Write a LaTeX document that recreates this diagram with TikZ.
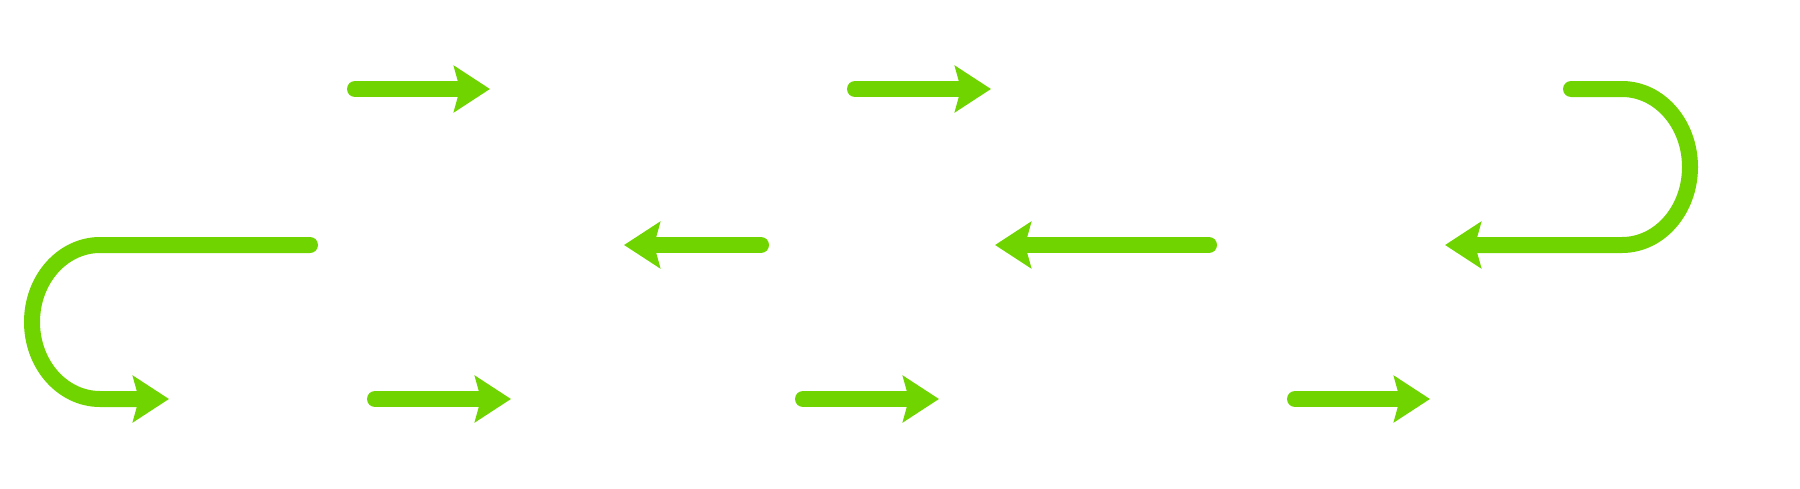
\documentclass[tikz,border=0pt]{standalone}
\usepackage{xcolor}
\usetikzlibrary{arrows.meta}
\definecolor{flowgreen}{HTML}{6FD400}
\tikzset{
	flow/.style={draw=flowgreen,line width=16pt,line cap=round,
		-{Stealth[length=36pt,width=46pt,inset=6pt,line cap=butt]}},
	bar/.style={draw=flowgreen,line width=16pt,line cap=round}
}
\begin{document}
\begin{tikzpicture}[x=1pt,y=-1pt]
		\useasboundingbox (0,0) rectangle (1800,488);
		% top row
		\coordinate (a1s) at (355,89);  \coordinate (a1e) at (490,89);
		\coordinate (a2s) at (855,89);  \coordinate (a2e) at (991,89);
		\coordinate (a3s) at (1571,89); \coordinate (a3b) at (1622,89);
		% middle row
		\coordinate (m1s) at (761,245); \coordinate (m1e) at (624,245);
		\coordinate (m2s) at (1209,245); \coordinate (m2e) at (995,245);
		\coordinate (m3b) at (1622,245); \coordinate (m3e) at (1445,245);
		\coordinate (m0s) at (310,245); \coordinate (m0b) at (100,245);
		% bottom row
		\coordinate (b0b) at (100,399); \coordinate (b0e) at (169,399);
		\coordinate (b1s) at (375,399); \coordinate (b1e) at (511,399);
		\coordinate (b2s) at (803,399); \coordinate (b2e) at (939,399);
		\coordinate (b3s) at (1295,399); \coordinate (b3e) at (1430,399);
		
		\draw [flow] (a1s) -- (a1e);
		\draw [flow] (a2s) -- (a2e);
		\draw [flow] (a3s) -- (a3b) arc [start angle=-90,end angle=90,x radius=68,y radius=78] -- (m3e);
		\draw [flow] (m2s) -- (m2e);
		\draw [flow] (m1s) -- (m1e);
		\draw [flow] (m0s) -- (m0b) arc [start angle=-90,end angle=-270,x radius=68,y radius=77] -- (b0e);
		\draw [flow] (b1s) -- (b1e);
		\draw [flow] (b2s) -- (b2e);
		\draw [flow] (b3s) -- (b3e);
	\end{tikzpicture}
\end{document}
